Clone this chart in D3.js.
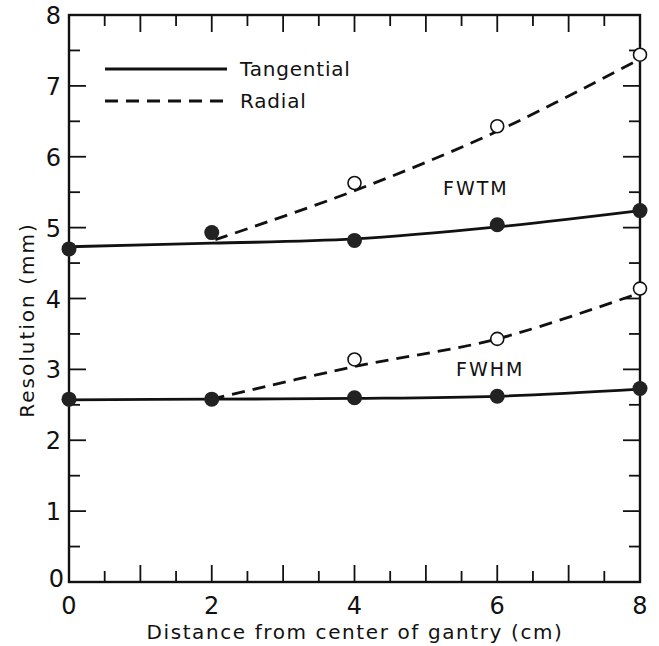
<!DOCTYPE html>
<html><head><meta charset="utf-8">
<script src="https://cdn.jsdelivr.net/npm/d3@7"></script>
<style>body{margin:0;background:#fff}text{font-family:"DejaVu Sans","Liberation Sans",sans-serif;fill:#111}</style>
</head><body><svg id="c" width="659" height="646"></svg>
<script>
// Measured points
const xs = [0, 2, 4, 6, 8];
const fwtmTangential = [4.70, 4.93, 4.82, 5.04, 5.24];
const fwtmRadial = [null, null, 5.63, 6.43, 7.44];
const fwhmTangential = [2.58, 2.58, 2.60, 2.62, 2.73];
const fwhmRadial = [null, null, 3.14, 3.43, 4.14];
// Drawn (fitted) curves
const fwtmTanCurve = [4.73, 4.78, 4.84, 5.01, 5.24];
const fwtmRadCurveX = [2.05, 4, 6, 8];
const fwtmRadCurve = [4.83, 5.52, 6.36, 7.38];
const fwhmTanCurve = [2.57, 2.58, 2.59, 2.62, 2.72];
const fwhmRadCurveX = [2, 4, 6, 8];
const fwhmRadCurve = [2.58, 3.04, 3.43, 4.08];
const xTickLabels = [0, 2, 4, 6, 8];
const yTickLabels = [0, 1, 2, 3, 4, 5, 6, 7, 8];
const legendItems = ["Tangential", "Radial"];

const svg = d3.select("#c");
const L = 69, R = 640, T = 15, B = 582;
const x = d3.scaleLinear().domain([0, 8]).range([L, R]);
const y = d3.scaleLinear().domain([0, 8]).range([B, T]);
const ink = "#111";

// frame
svg.append("rect").attr("x", L).attr("y", T).attr("width", R - L).attr("height", B - T)
  .attr("fill", "none").attr("stroke", ink).attr("stroke-width", 2.4);

const minor = d3.range(0, 8.01, 0.5);
const tickLen = v => (Math.abs(v - Math.round(v)) < 1e-6 ? 17 : 11);
minor.forEach(v => {
  if (v > 0 && v < 8) {
    svg.append("line").attr("x1", x(v)).attr("x2", x(v)).attr("y1", B).attr("y2", B - tickLen(v)).attr("stroke", ink).attr("stroke-width", 1.8);
    svg.append("line").attr("x1", x(v)).attr("x2", x(v)).attr("y1", T).attr("y2", T + tickLen(v)).attr("stroke", ink).attr("stroke-width", 1.8);
    svg.append("line").attr("y1", y(v)).attr("y2", y(v)).attr("x1", L).attr("x2", L + tickLen(v)).attr("stroke", ink).attr("stroke-width", 1.8);
    svg.append("line").attr("y1", y(v)).attr("y2", y(v)).attr("x1", R).attr("x2", R - tickLen(v)).attr("stroke", ink).attr("stroke-width", 1.8);
  }
});

// tick labels
svg.selectAll(".xl").data(xTickLabels).enter().append("text")
  .attr("x", d => x(d)).attr("y", B + 32).attr("text-anchor", "middle")
  .attr("font-size", 24).text(d => d);
svg.selectAll(".yl").data(yTickLabels).enter().append("text")
  .attr("x", d => d === 0 ? L - 5 : L - 8).attr("y", d => d === 0 ? y(d) + 5 : y(d) + 9).attr("text-anchor", "end")
  .attr("font-size", 24).text(d => d);

// axis titles
svg.append("text").attr("x", 355).attr("y", 639).attr("text-anchor", "middle")
  .attr("font-size", 20).attr("letter-spacing", 1.6).text("Distance from center of gantry  (cm)");
svg.append("text").attr("transform", "translate(34,320) rotate(-90)").attr("text-anchor", "middle")
  .attr("font-size", 20).attr("letter-spacing", 2).text("Resolution  (mm)");

// curves
const line = d3.line().x(d => x(d[0])).y(d => y(d[1])).curve(d3.curveCatmullRom.alpha(0.5));
function drawCurve(xv, yv, dashed) {
  svg.append("path").datum(xv.map((v, i) => [v, yv[i]]))
    .attr("d", line).attr("fill", "none").attr("stroke", ink).attr("stroke-width", 2.8)
    .attr("stroke-dasharray", dashed ? "13,8" : null);
}
drawCurve(xs, fwtmTanCurve, false);
drawCurve(fwtmRadCurveX, fwtmRadCurve, true);
drawCurve(xs, fwhmTanCurve, false);
drawCurve(fwhmRadCurveX, fwhmRadCurve, true);

// points
function filled(arr) {
  xs.forEach((v, i) => { if (arr[i] != null)
    svg.append("circle").attr("cx", x(v)).attr("cy", y(arr[i])).attr("r", 7.5).attr("fill", "#222"); });
}
function open(arr) {
  xs.forEach((v, i) => { if (arr[i] != null)
    svg.append("circle").attr("cx", x(v)).attr("cy", y(arr[i])).attr("r", 6.5).attr("fill", "#fff").attr("stroke", ink).attr("stroke-width", 1.6); });
}
filled(fwtmTangential); open(fwtmRadial); filled(fwhmTangential); open(fwhmRadial);

// curve labels
svg.append("text").attr("x", 443).attr("y", 195).attr("font-size", 19).attr("letter-spacing", 2).text("FWTM");
svg.append("text").attr("x", 456).attr("y", 376).attr("font-size", 19).attr("letter-spacing", 2).text("FWHM");

// legend
legendItems.forEach((name, i) => {
  const ly = 69 + i * 32;
  svg.append("line").attr("x1", 105).attr("x2", 227).attr("y1", ly).attr("y2", ly)
    .attr("stroke", ink).attr("stroke-width", 2.8).attr("stroke-dasharray", i ? "13,8" : null);
  svg.append("text").attr("x", 240).attr("y", ly + 7).attr("font-size", 20).attr("letter-spacing", 0.8).text(name);
});
</script></body></html>
